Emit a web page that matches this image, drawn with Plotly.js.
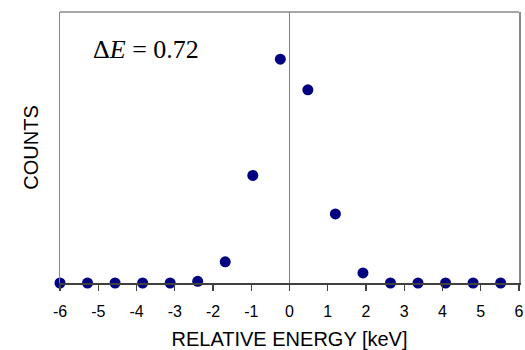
<!DOCTYPE html>
<html>
<head>
<meta charset="utf-8">
<script src="https://cdn.plot.ly/plotly-3.0.1.min.js"></script>
<style>html,body{margin:0;padding:0;background:#fff;}#chart{width:525px;height:350px;}</style>
</head>
<body>
<div id="chart"></div>
<script>
const energies = [-6, -5.28, -4.56, -3.84, -3.12, -2.4, -1.68, -0.96, -0.24, 0.48, 1.2, 1.92, 2.64, 3.36, 4.08, 4.8, 5.52];
const counts   = [0, 0, 0, 0, 0, 6, 78, 397, 826, 713, 255, 37, 0, 0, 0, 0, 0];
const tickVals   = [-6, -5, -4, -3, -2, -1, 0, 1, 2, 3, 4, 5, 6];
const tickLabels = ["-6", "-5", "-4", "-3", "-2", "-1", "0", "1", "2", "3", "4", "5", "6"];
const annotationText = "\u0394<i>E</i> = 0.72";

const trace = {
  x: energies, y: counts, type: 'scatter', mode: 'markers',
  marker: {color: '#000080', size: 11},
  cliponaxis: false, hoverinfo: 'x+y'
};

const layout = {
  width: 525, height: 350,
  margin: {l: 60, r: 6, t: 12, b: 67},
  paper_bgcolor: '#ffffff', plot_bgcolor: '#ffffff',
  showlegend: false,
  font: {family: 'Liberation Sans, Arial, sans-serif', color: '#000'},
  xaxis: {
    range: [-6, 6], tickvals: tickVals, ticktext: tickLabels,
    ticks: 'outside', ticklen: 6, tickwidth: 1.2, tickcolor: '#404040',
    ticklabelstandoff: 7,
    showline: true, linecolor: '#404040', linewidth: 1.5,
    showgrid: false, zeroline: true, zerolinecolor: '#808080', zerolinewidth: 1.5,
    tickfont: {size: 16, color: '#000'},
    title: {text: 'RELATIVE ENERGY [keV]', font: {size: 20, color: '#000'}, standoff: 16}
  },
  yaxis: {
    range: [0, 1000], showticklabels: false, ticks: '',
    showline: true, linecolor: '#888888', linewidth: 1.5, mirror: true,
    showgrid: false, zeroline: false,
    title: {text: 'COUNTS', font: {size: 20, color: '#000'}, standoff: 14}
  },
  shapes: [{type: 'line', xref: 'paper', yref: 'paper', x0: 0, x1: 1, y0: 1, y1: 1,
            line: {color: '#888888', width: 1.5}}],
  annotations: [{
    text: annotationText, xref: 'paper', yref: 'paper', x: 0.067, y: 0.86,
    xanchor: 'left', yanchor: 'middle', showarrow: false,
    font: {family: 'Liberation Serif, Times New Roman, serif', size: 26, color: '#000'}
  }]
};

Plotly.newPlot('chart', [trace], layout, {staticPlot: true, displayModeBar: false});
</script>
</body>
</html>
